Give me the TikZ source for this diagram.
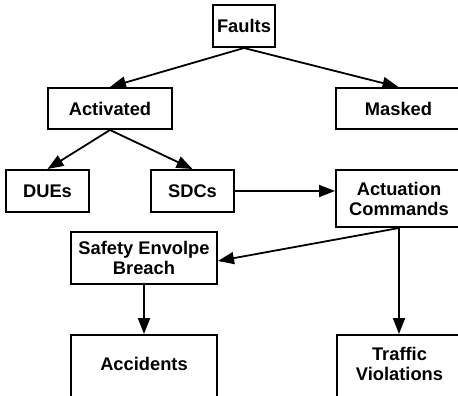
\documentclass[tikz,border=0pt]{standalone}
\usepackage{fontspec}
\setmainfont{Liberation Sans}
\usetikzlibrary{arrows.meta}
\begin{document}
\begin{tikzpicture}[x=1pt,y=-1pt,
  box/.style={draw=black,line width=2pt,fill=white,inner sep=0pt,align=center,
    font=\fontsize{18.3}{20}\selectfont\bfseries},
  conn/.style={line width=1.8pt,-{Triangle[length=16pt,width=12pt]}}]
\useasboundingbox (0,0) rectangle (458,396);
\clip (0,0) rectangle (458,396);
\node[box,minimum width=62pt,minimum height=42pt] (faults) at (244,26) {Faults};
\node[box,minimum width=124pt,minimum height=41pt] (act) at (110,108.5) {Activated};
\node[box,minimum width=125pt,minimum height=41pt] (mask) at (398.5,108.5) {Masked};
\node[box,minimum width=83pt,minimum height=42pt] (due) at (47.5,191) {DUEs};
\node[box,minimum width=83pt,minimum height=42pt] (sdc) at (192.5,191) {SDCs};
\node[box,minimum width=126pt,minimum height=57pt] (actu) at (399,198.5) {Actuation\\Commands};
\node[box,minimum width=146pt,minimum height=52pt] (seb) at (144,258) {Safety Envolpe\\Breach};
\node[box,minimum width=146pt,minimum height=75pt] (acc) at (144,372.5) {\raisebox{1.9pt}[0pt][0pt]{Accidents}};
\node[box,minimum width=125pt,minimum height=75pt] (traf) at (399.5,372.5)
  {\raisebox{1.4pt}[0pt][0pt]{\begin{tabular}{@{}c@{}}Traffic\\Violations\end{tabular}}};
\draw[conn] (faults.south) -- (act.north);
\draw[conn] (faults.south) -- (mask.north);
\draw[conn] (act.south) -- (due.north);
\draw[conn] (act.south) -- (sdc.north);
\draw[conn] (sdc.east) -- (sdc.east -| actu.west);
\draw[conn] (actu.south) -- ([yshift=-3pt]seb.east);
\draw[conn] (actu.south) -- (actu.south |- traf.north);
\draw[conn] (seb.south) -- (acc.north);
\end{tikzpicture}
\end{document}
